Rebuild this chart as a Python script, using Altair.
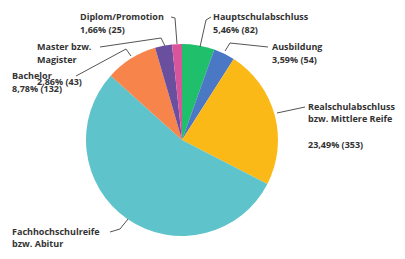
import altair as alt
import pandas as pd

# ---- data ----
categories = ["Hauptschulabschluss", "Ausbildung", "Realschulabschluss bzw. Mittlere Reife",
              "Fachhochschulreife bzw. Abitur", "Bachelor", "Master bzw. Magister", "Diplom/Promotion"]
counts = [82, 54, 353, 813, 132, 43, 25]
colors = ["#20bf6b", "#4a78c4", "#fbb917", "#5ec3cb", "#f7844b", "#6b4f9f", "#d8559b"]

label_lines = ["Diplom/Promotion", "1,66% (25)", "Master bzw.", "Magister", "Bachelor",
               "8,78% (132)", "2,86% (43)", "Hauptschulabschluss", "5,46% (82)", "Ausbildung",
               "3,59% (54)", "Realschulabschluss", "bzw. Mittlere Reife", "23,49% (353)",
               "Fachhochschulreife", "bzw. Abitur"]

# ---- layout (annotation baselines, page px; margin subtracted below) ----
OFF = 8
label_pos = [(80, 20), (80, 33), (37, 50), (37, 63), (12, 79), (12, 92), (37, 85),
             (213, 20), (213, 33), (272, 50), (272, 63), (308, 110), (308, 122), (308, 148),
             (12, 235), (12, 247)]
leaders = [
    [(171, 17), (175, 18), (177, 44)],
    [(100, 47), (161, 38), (165, 46)],
    [(76, 76), (126, 49), (131, 56)],
    [(211, 17), (206, 20), (200, 47)],
    [(268, 47), (230, 43), (225, 51)],
    [(305, 107), (277, 113)],
    [(110, 232), (120, 229), (128, 219)],
]

pie_df = pd.DataFrame({"cat": categories, "n": counts, "idx": list(range(len(categories)))})
txt_df = pd.DataFrame({"t": label_lines,
                       "px": [p[0] - OFF for p in label_pos],
                       "py": [p[1] - OFF for p in label_pos]})
rows = []
for i, pts in enumerate(leaders):
    for j, (a, b) in enumerate(pts):
        rows.append({"line": i, "o": j, "px": a - OFF, "py": b - OFF})
line_df = pd.DataFrame(rows)

W, H = 389, 243
CX, CY, R = 182 - OFF, 140 - OFF, 96

pie = alt.Chart(pie_df).mark_arc(outerRadius=R, stroke=None).encode(
    theta=alt.Theta("n:Q", stack=True),
    order=alt.Order("idx:Q"),
    color=alt.Color("cat:N", scale=alt.Scale(domain=categories, range=colors), legend=None),
    x=alt.value(CX), y=alt.value(CY),
)

lines = alt.Chart(line_df).mark_line(color="#555555", strokeWidth=1).encode(
    x=alt.X("px:Q", scale=None),
    y=alt.Y("py:Q", scale=None),
    detail="line:N",
    order="o:Q",
)

texts = alt.Chart(txt_df).mark_text(
    align="left", baseline="alphabetic", font="Open Sans", fontSize=9, fontWeight="bold", color="#333333"
).encode(
    x=alt.X("px:Q", scale=None),
    y=alt.Y("py:Q", scale=None),
    text="t:N",
)

chart = alt.layer(pie, lines, texts).properties(
    width=W, height=H, padding=0, autosize=alt.AutoSizeParams(type="none"), background="white"
).configure_view(stroke=None)

chart.save("out.html", embed_options={"renderer": "svg", "actions": False})
